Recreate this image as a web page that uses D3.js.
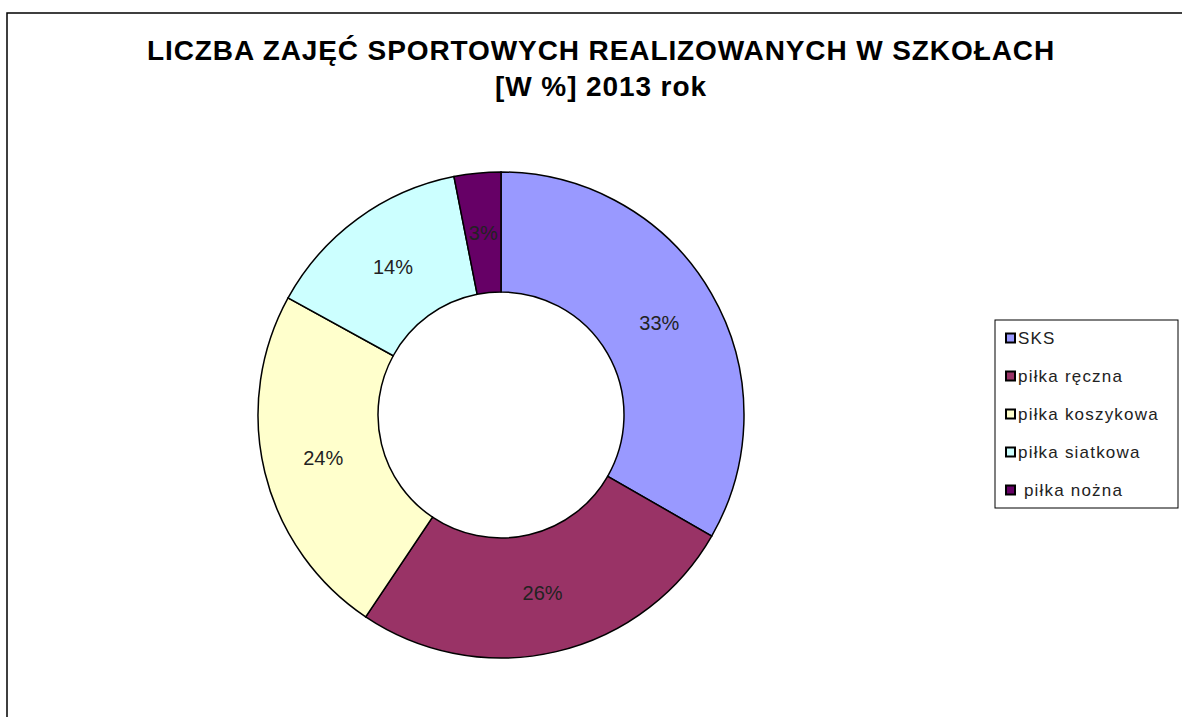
<!DOCTYPE html>
<html>
<head>
<meta charset="utf-8">
<script src="https://cdn.jsdelivr.net/npm/d3@7"></script>
<style>
body { margin: 0; background: #fff; }
text { font-family: "Liberation Sans", Arial, sans-serif; }
</style>
</head>
<body>
<script>
var width = 1182;
var height = 717;

var categories = ["SKS", "piłka ręczna", "piłka koszykowa", "piłka siatkowa", " piłka nożna"];
var values = [33.3, 26.1, 23.6, 13.9, 3.1];
var colors = ["#9999ff", "#993366", "#ffffcc", "#ccffff", "#660066"];
var titleLines = ["LICZBA ZAJĘĆ SPORTOWYCH REALIZOWANYCH W SZKOŁACH", "[W %] 2013 rok"];

var cx = 501, cy = 415;
var outerR = 243, innerR = 123;

var svg = d3.select("body").append("svg")
    .attr("width", width)
    .attr("height", height);

// chart frame
svg.append("rect")
    .attr("x", 7).attr("y", 13)
    .attr("width", width + 20).attr("height", height + 20)
    .attr("fill", "none")
    .attr("stroke", "black")
    .attr("stroke-width", 1.5);

// title
svg.selectAll(".title")
    .data(titleLines)
    .enter().append("text")
    .attr("class", "title")
    .attr("x", 601)
    .attr("y", function(d, i) { return 60 + i * 36; })
    .attr("text-anchor", "middle")
    .style("font-size", "28px")
    .style("font-weight", "bold")
    .style("letter-spacing", "0.9px")
    .text(function(d) { return d; });

var data = categories.map(function(c, i) { return {label: c, value: values[i], color: colors[i]}; });

var pie = d3.pie()
    .sort(null)
    .value(function(d) { return d.value; });

var arc = d3.arc()
    .outerRadius(outerR)
    .innerRadius(innerR);

var g = svg.append("g").attr("transform", "translate(" + cx + "," + cy + ")");

var slices = g.selectAll(".arc")
    .data(pie(data))
    .enter().append("g")
    .attr("class", "arc");

slices.append("path")
    .attr("d", arc)
    .attr("fill", function(d) { return d.data.color; })
    .attr("stroke", "black")
    .attr("stroke-width", 1.5);

slices.append("text")
    .attr("transform", function(d) { return "translate(" + arc.centroid(d) + ")"; })
    .attr("dy", ".35em")
    .attr("text-anchor", "middle")
    .style("font-size", "20px")
    .attr("fill", "#222")
    .text(function(d) { return Math.round(d.data.value) + "%"; });

// legend
var legend = svg.append("g").attr("transform", "translate(995,320)");
legend.append("rect")
    .attr("width", 183).attr("height", 188)
    .attr("fill", "white")
    .attr("stroke", "black")
    .attr("stroke-width", 1);

var item = legend.selectAll(".item")
    .data(data)
    .enter().append("g")
    .attr("class", "item")
    .attr("transform", function(d, i) { return "translate(0," + (18 + i * 38) + ")"; });

item.append("rect")
    .attr("x", 11).attr("y", -4.5)
    .attr("width", 9).attr("height", 9)
    .attr("fill", function(d) { return d.color; })
    .attr("stroke", "black")
    .attr("stroke-width", 2);

item.append("text")
    .attr("x", 23)
    .attr("dy", ".35em")
    .style("font-size", "17px")
    .style("letter-spacing", "1.2px")
    .attr("fill", "#222")
    .attr("xml:space", "preserve")
    .text(function(d) { return d.label; });
</script>
</body>
</html>
